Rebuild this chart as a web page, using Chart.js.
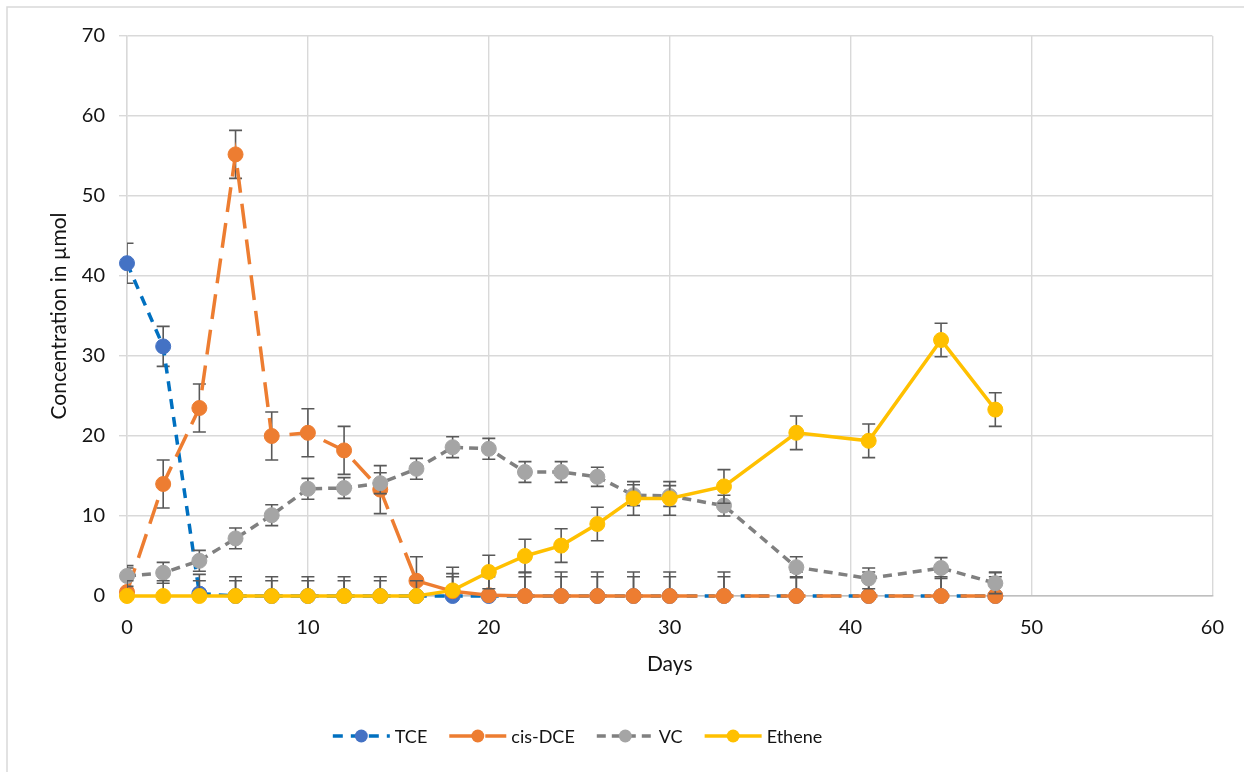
<!DOCTYPE html>
<html>
<head>
<meta charset="utf-8">
<script src="https://cdn.jsdelivr.net/npm/chart.js@4.4.1/dist/chart.umd.min.js"></script>
<style>
  html, body { margin: 0; padding: 0; background: #ffffff; }
  #wrap { position: relative; width: 1244px; height: 772px; }
</style>
</head>
<body>
<div id="wrap"><canvas id="chart" width="1244" height="772"></canvas></div>
<script>
// Sampling days
const days = [0, 2, 4, 6, 8, 10, 12, 14, 16, 18, 20, 22, 24, 26, 28, 30, 33, 37, 41, 45, 48];

// Concentrations (µmol) and their error margins
const tce       = [41.6, 31.2, 0.3, 0, 0, 0, 0, 0, 0, 0, 0, 0, 0, 0, 0, 0, 0, 0, 0, 0, 0];
const tceErr    = [2.5, 2.5, 2.4, 2.4, 2.4, 2.4, 2.4, 2.4, 2.4, 2.4, 2.4, 2.4, 2.4, 2.4, 2.4, 2.4, 2.4, 2.4, 2.4, 2.4, 2.4];
const cisDce    = [0.5, 14.0, 23.5, 55.2, 20.0, 20.4, 18.2, 13.3, 1.9, 0.6, 0.1, 0, 0, 0, 0, 0, 0, 0, 0, 0, 0];
const cisDceErr = [3, 3, 3, 3, 3, 3, 3, 3, 3, 3, 3, 3, 3, 3, 3, 3, 3, 3, 3, 3, 3];
const vc        = [2.5, 2.9, 4.4, 7.2, 10.1, 13.4, 13.5, 14.1, 15.9, 18.6, 18.4, 15.5, 15.5, 14.9, 12.6, 12.5, 11.3, 3.6, 2.2, 3.5, 1.6];
const vcErr     = [1.3, 1.3, 1.3, 1.3, 1.3, 1.3, 1.3, 1.3, 1.3, 1.3, 1.3, 1.3, 1.3, 1.2, 1.3, 1.3, 1.3, 1.3, 1.3, 1.3, 1.3];
const ethene    = [0, 0, 0, 0, 0, 0, 0, 0, 0, 0.7, 3.0, 5.0, 6.3, 9.0, 12.2, 12.2, 13.7, 20.4, 19.4, 32.0, 23.3];
const etheneErr = [1.9, 1.9, 1.9, 1.9, 1.9, 1.9, 1.9, 1.9, 1.9, 2.1, 2.1, 2.1, 2.1, 2.1, 2.1, 2.1, 2.1, 2.1, 2.1, 2.1, 2.1];

// Axis settings
const xAxisRange = { min: 0, max: 60, step: 10 };
const yAxisRange = { min: 0, max: 70, step: 10 };
const seriesNames = ['TCE', 'cis-DCE', 'VC', 'Ethene'];

const FONT = 'Lato, "Open Sans", "Liberation Sans", sans-serif';
const TEXT = '#141414';

const toPoints = (ys) => days.map((d, i) => ({ x: d, y: ys[i] }));

function series(name, values, errors, lineColor, markerColor, dash, order) {
  return {
    label: name,
    data: toPoints(values),
    errors: errors,
    showLine: true,
    borderColor: lineColor,
    backgroundColor: markerColor,
    borderWidth: 3.5,
    borderDash: dash,
    borderCapStyle: 'butt',
    tension: 0,
    pointRadius: 7.5,
    pointHoverRadius: 7.5,
    pointBackgroundColor: markerColor,
    pointBorderColor: markerColor,
    pointBorderWidth: 1,
    clip: false,
    order: order
  };
}

// Error bars, drawn just before each series' line and markers
const errorBars = {
  id: 'errorBars',
  beforeDatasetDraw(chart, args) {
    const ds = chart.data.datasets[args.index];
    if (!ds.errors) return;
    const { ctx, chartArea, scales } = chart;
    const xs = scales.x, ys = scales.y;
    ctx.save();
    ctx.beginPath();
    ctx.rect(chartArea.left, chartArea.top, chartArea.width, chartArea.height + 0.5);
    ctx.clip();
    ctx.strokeStyle = '#595959';
    ctx.lineWidth = 1.6;
    const cap = 6.5;
    ds.data.forEach((p, i) => {
      const e = ds.errors[i];
      const px = xs.getPixelForValue(p.x);
      const top = ys.getPixelForValue(p.y + e);
      const bot = ys.getPixelForValue(p.y - e);
      ctx.beginPath();
      ctx.moveTo(px, top); ctx.lineTo(px, bot);
      ctx.moveTo(px - cap, top); ctx.lineTo(px + cap, top);
      ctx.moveTo(px - cap, bot); ctx.lineTo(px + cap, bot);
      ctx.stroke();
    });
    ctx.restore();
  }
};

// Outer frame and the bottom legend with line + marker samples
const frameAndLegend = {
  id: 'frameAndLegend',
  beforeDraw(chart) {
    const ctx = chart.ctx;
    ctx.save();
    ctx.strokeStyle = '#d9d9d9';
    ctx.lineWidth = 1.5;
    ctx.strokeRect(7, 7, 1400, 1000);
    ctx.restore();
  },
  afterDraw(chart) {
    const ctx = chart.ctx;
    const lineLen = 57, textGap = 5, itemGap = 22, cy = 736;
    ctx.save();
    ctx.font = '18px ' + FONT;
    const items = seriesNames.map(n => chart.data.datasets.find(d => d.label === n));
    const widths = items.map(d => lineLen + textGap + ctx.measureText(d.label).width);
    const total = widths.reduce((a, b) => a + b, 0) + itemGap * (items.length - 1);
    let x = 577.5 - total / 2;
    items.forEach((d, i) => {
      ctx.save();
      ctx.strokeStyle = d.borderColor;
      ctx.lineWidth = d.borderWidth;
      ctx.setLineDash(d.borderDash || []);
      ctx.beginPath();
      ctx.moveTo(x, cy); ctx.lineTo(x + lineLen, cy);
      ctx.stroke();
      ctx.restore();
      ctx.beginPath();
      ctx.fillStyle = d.pointBackgroundColor;
      ctx.arc(x + lineLen / 2, cy, 6.5, 0, Math.PI * 2);
      ctx.fill();
      ctx.fillStyle = TEXT;
      ctx.textBaseline = 'middle';
      ctx.textAlign = 'left';
      ctx.fillText(d.label, x + lineLen + textGap, cy + 1);
      x += widths[i] + itemGap;
    });
    ctx.restore();
  }
};

const datasets = [
  series('TCE', tce, tceErr, '#0070c0', '#4472c4', [10, 8], 4),
  series('cis-DCE', cisDce, cisDceErr, '#ed7d31', '#ed7d31', [25, 11], 3),
  series('VC', vc, vcErr, '#808080', '#a5a5a5', [9, 6], 2),
  series('Ethene', ethene, etheneErr, '#ffc000', '#ffc000', [], 1)
];

new Chart(document.getElementById('chart'), {
  type: 'scatter',
  data: { datasets },
  plugins: [errorBars, frameAndLegend],
  options: {
    responsive: false,
    animation: false,
    devicePixelRatio: 1,
    layout: { padding: { left: 0, right: 30, top: 36, bottom: 86 } },
    plugins: {
      legend: { display: false },
      tooltip: { enabled: false }
    },
    scales: {
      x: {
        type: 'linear',
        min: xAxisRange.min, max: xAxisRange.max,
        afterFit(scale) { scale.height = 90; },
        ticks: {
          stepSize: xAxisRange.step,
          padding: 20,
          color: TEXT,
          font: { family: FONT, size: 20 },
          maxRotation: 0
        },
        grid: { color: '#d9d9d9', lineWidth: 1.4, drawTicks: false },
        border: { display: true, color: '#bfbfbf', width: 1.4 },
        title: {
          display: true, text: 'Days', color: TEXT,
          font: { family: FONT, size: 21 },
          padding: { top: 4, bottom: 9 }
        }
      },
      y: {
        type: 'linear',
        min: yAxisRange.min, max: yAxisRange.max,
        afterFit(scale) { scale.width = 127; },
        ticks: {
          stepSize: yAxisRange.step,
          padding: 14,
          color: TEXT,
          font: { family: FONT, size: 20 }
        },
        grid: { color: '#d9d9d9', lineWidth: 1.4, drawTicks: true, tickLength: 8, tickColor: '#d9d9d9' },
        border: { display: true, color: '#d9d9d9', width: 1.4 },
        title: {
          display: true, text: 'Concentration in µmol', color: TEXT,
          font: { family: FONT, size: 21 },
          padding: { top: 47, bottom: 4 }
        }
      }
    }
  }
});
</script>
</body>
</html>
